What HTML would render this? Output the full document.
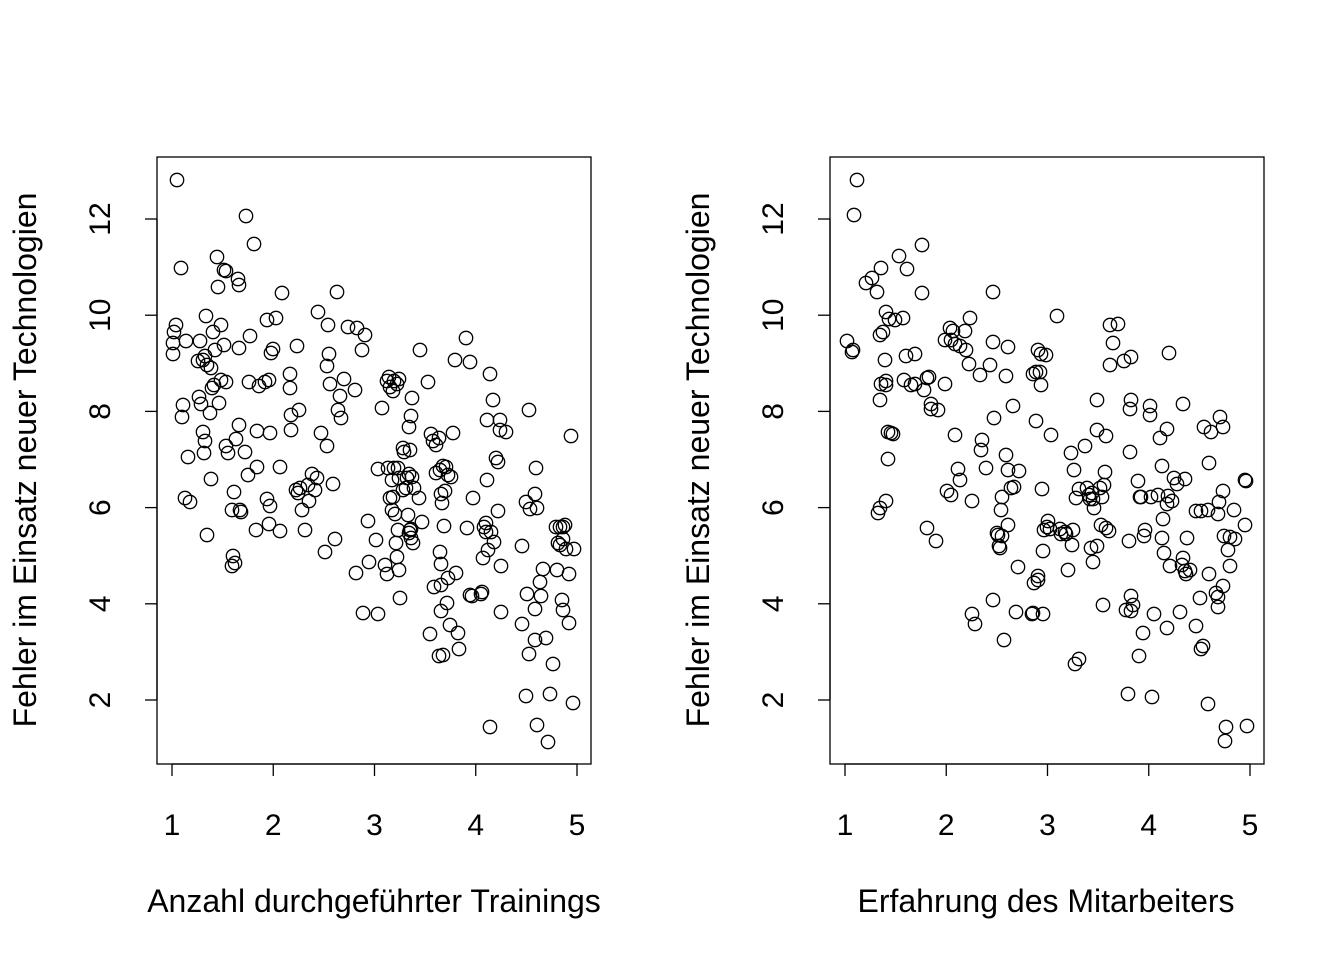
<!DOCTYPE html>
<html><head><meta charset="utf-8"><style>
html,body{margin:0;padding:0;background:#fff}
svg text{font-family:"Liberation Sans",Arial,sans-serif;fill:#000}
</style></head><body>
<svg id="s" width="1344" height="960" xmlns="http://www.w3.org/2000/svg">
<g stroke="#000" stroke-width="1.3" fill="none">
<rect x="157" y="157" width="434" height="607"/>
<rect x="830" y="157" width="434" height="607"/>
</g>
<g id="ax" stroke="#000" stroke-width="1.3"></g>
<g id="lab" font-size="30"></g>
<g id="pts" stroke="#000" stroke-width="1.3" fill="none"></g>
<text x="374" y="912" font-size="32" text-anchor="middle">Anzahl durchgeführter Trainings</text>
<text x="1046" y="912" font-size="32" text-anchor="middle">Erfahrung des Mitarbeiters</text>
<text transform="translate(36,460) rotate(-90)" font-size="32" text-anchor="middle">Fehler im Einsatz neuer Technologien</text>
<text transform="translate(709,460) rotate(-90)" font-size="32" text-anchor="middle">Fehler im Einsatz neuer Technologien</text>
</svg>
<script>
var NS="http://www.w3.org/2000/svg";
function el(p,t,a,txt){var e=document.createElementNS(NS,t);for(var k in a)e.setAttribute(k,a[k]);if(txt)e.textContent=txt;document.getElementById(p).appendChild(e);}
[[157,172],[830,845]].forEach(function(b){
 var L=b[0],x1=b[1];
 el("ax","line",{x1:x1,y1:764,x2:x1+405,y2:764});
 for(var i=0;i<5;i++){var x=x1+i*101.25;el("ax","line",{x1:x,y1:764,x2:x,y2:776});el("lab","text",{x:x,y:835,"text-anchor":"middle"},""+(i+1));}
 el("ax","line",{x1:L,y1:219,x2:L,y2:700});
 for(var j=0;j<6;j++){var y=700-j*96.2;el("ax","line",{x1:L,y1:y,x2:L-12,y2:y});el("lab","text",{transform:"translate("+(L-47)+","+y+") rotate(-90)","text-anchor":"middle"},""+(2+2*j));}
});
var P=[177,180,181,268,176,325,174,332,173,343,186,341,173,354,183,405,182,417,188,457,185,498,190,502,206,316,200,341,205,356,203,360,198,361,207,365,211,368,215,350,217,257,224,270,218,287,213,332,221,325,224,345,221,380,214,385,212,388,219,403,210,413,199,397,201,404,203,432,205,441,204,453,211,479,207,535,228,453,236,439,226,382,226,446,234,492,232,510,240,510,233,556,232,566,235,563,239,348,238,279,226,271,246,216,254,244,239,285,250,336,259,386,249,382,257,431,245,452,239,425,257,467,241,512,248,475,267,320,276,318,271,353,273,349,269,380,265,382,270,433,280,467,267,499,270,506,269,524,256,530,280,531,282,293,290,388,291,415,291,430,297,346,290,374,299,410,296,490,300,488,298,493,302,510,305,530,308,485,309,501,312,474,317,478,315,490,318,312,328,325,327,366,329,354,330,384,321,433,327,446,325,552,333,484,335,539,337,292,344,379,340,396,338,410,341,418,348,327,357,328,355,390,365,335,362,350,369,562,356,573,376,540,378,614,363,613,378,469,368,521,382,408,387,381,389,377,394,381,390,387,397,384,399,379,393,391,388,468,394,468,396,543,397,557,385,565,387,574,398,530,400,598,392,480,393,497,390,498,392,510,395,514,398,468,399,478,399,570,403,448,409,427,407,478,406,488,409,474,412,398,411,416,404,452,403,490,408,515,410,450,411,529,411,538,413,543,409,533,412,477,414,488,410,530,420,350,419,498,422,522,428,382,431,434,433,441,436,473,436,445,439,438,434,587,441,611,430,634,441,585,443,466,440,470,448,475,445,491,446,467,440,552,441,564,451,477,444,526,441,494,442,503,447,603,443,655,439,656,448,578,450,625,453,433,455,360,456,573,458,633,459,649,466,338,470,362,467,528,473,498,470,595,472,596,483,558,481,594,486,523,490,374,487,420,493,400,487,480,484,527,482,592,486,532,488,550,491,532,490,727,496,458,500,420,500,430,498,462,498,511,494,542,501,566,501,612,506,432,522,624,526,502,522,546,527,594,526,696,529,410,529,654,535,494,530,509,536,468,537,508,535,609,540,582,541,596,535,640,537,725,543,569,548,742,556,527,560,527,558,543,563,527,560,545,565,525,563,539,566,549,553,664,557,570,550,694,569,574,571,436,574,549,569,623,573,703,562,600,563,610,546,638,
857,180,854,215,847,341,852,352,853,350,866,283,872,278,877,292,880,335,883,332,881,268,886,312,889,319,885,360,881,384,880,400,886,381,886,385,888,432,888,459,886,501,880,508,878,513,891,433,893,434,895,320,899,256,907,269,903,318,911,385,906,356,904,380,915,384,915,354,922,245,922,293,927,378,929,377,924,390,931,409,931,404,927,528,936,541,938,410,945,384,945,340,951,340,950,328,953,331,947,491,951,495,955,344,960,346,955,435,958,469,960,480,965,331,966,350,970,318,969,364,972,614,975,624,972,501,982,440,981,450,980,375,986,468,990,365,993,292,993,342,994,418,993,600,997,533,998,535,999,546,1000,548,1001,510,1002,497,1002,536,1004,640,1006,376,1008,347,1006,455,1008,470,1008,525,1011,488,1013,406,1014,487,1019,471,1018,567,1016,612,1033,374,1036,372,1040,372,1041,385,1038,350,1041,354,1046,355,1036,421,1042,489,1044,530,1047,527,1043,551,1038,576,1034,583,1032,614,1033,613,1038,580,1048,521,1050,529,1043,614,1051,435,1057,316,1060,529,1061,534,1066,534,1065,532,1073,530,1071,453,1074,470,1076,498,1079,489,1068,570,1072,545,1075,664,1079,659,1085,446,1089,495,1087,488,1092,493,1093,499,1091,548,1090,499,1093,562,1094,508,1097,430,1097,546,1101,525,1102,497,1100,488,1097,400,1106,436,1106,528,1105,472,1104,485,1103,605,1109,531,1110,325,1113,343,1110,365,1118,324,1124,361,1131,357,1131,400,1130,409,1130,452,1129,541,1131,596,1133,605,1126,610,1131,611,1128,694,1138,481,1140,497,1144,536,1141,497,1139,656,1143,633,1145,530,1150,406,1150,415,1154,614,1151,497,1152,697,1158,495,1160,438,1162,466,1167,429,1162,538,1163,519,1168,496,1167,504,1164,553,1167,628,1169,353,1170,566,1172,501,1174,478,1177,484,1183,404,1180,612,1182,565,1183,558,1185,571,1186,574,1185,479,1187,538,1190,570,1196,511,1196,626,1200,598,1201,511,1201,649,1203,646,1204,427,1208,510,1209,463,1209,574,1208,704,1211,432,1216,593,1218,597,1218,514,1218,607,1219,502,1220,417,1223,491,1223,427,1224,536,1223,586,1225,741,1226,727,1228,550,1230,537,1230,566,1234,510,1235,539,1245,480,1247,726,1245,525,1246,481];
for(var i=0;i<P.length;i+=2)el("pts","circle",{cx:P[i],cy:P[i+1],r:6.7});
</script>
</body></html>
